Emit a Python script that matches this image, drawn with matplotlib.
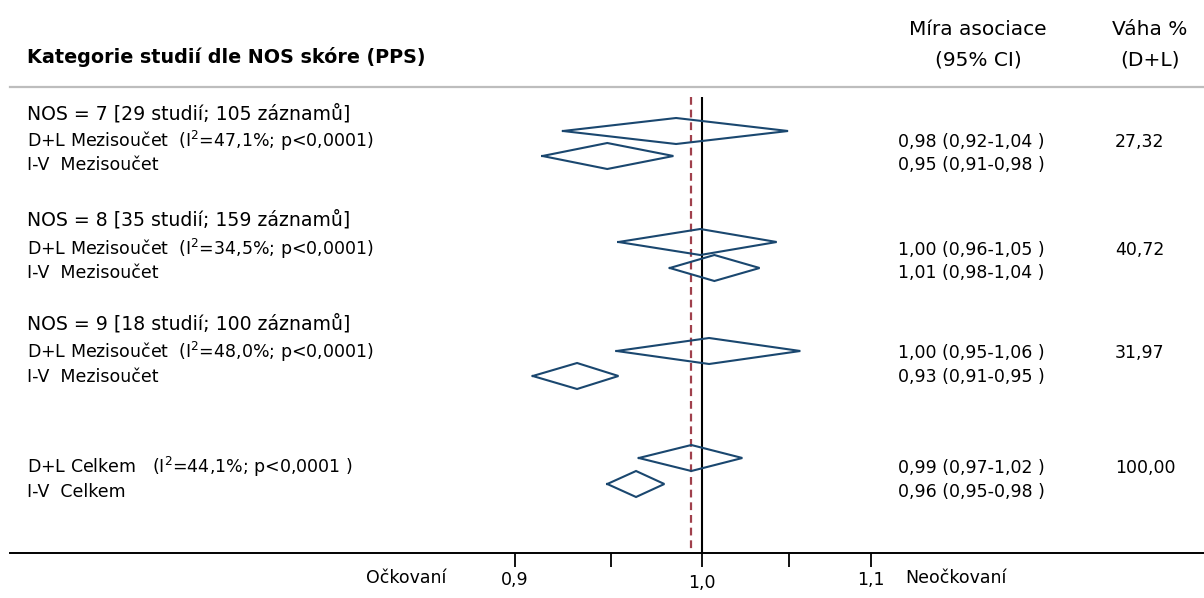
import numpy as np
import matplotlib
matplotlib.use('Agg')
import matplotlib.pyplot as plt
from matplotlib.ticker import FixedLocator, NullFormatter

# --- data ---
group_titles = ['NOS = 7 [29 studií; 105 záznamů]',
                'NOS = 8 [35 studií; 159 záznamů]',
                'NOS = 9 [18 studií; 100 záznamů]']
row_labels = [r'D+L Mezisoučet  (I$^2$=47,1%; p<0,0001)', 'I-V  Mezisoučet',
              r'D+L Mezisoučet  (I$^2$=34,5%; p<0,0001)', 'I-V  Mezisoučet',
              r'D+L Mezisoučet  (I$^2$=48,0%; p<0,0001)', 'I-V  Mezisoučet',
              r'D+L Celkem   (I$^2$=44,1%; p<0,0001 )', 'I-V  Celkem']
# diamond centre and ends as drawn
est = [0.9855, 0.948, 0.999, 1.007, 1.004, 0.932, 0.994, 0.9635]
lo = [0.9246, 0.914, 0.954, 0.982, 0.953, 0.909, 0.965, 0.948]
hi = [1.0497, 0.984, 1.043, 1.033, 1.057, 0.954, 1.023, 0.979]
ci_text = ['0,98 (0,92-1,04 )', '0,95 (0,91-0,98 )',
           '1,00 (0,96-1,05 )', '1,01 (0,98-1,04 )',
           '1,00 (0,95-1,06 )', '0,93 (0,91-0,95 )',
           '0,99 (0,97-1,02 )', '0,96 (0,95-0,98 )']
weights = ['27,32', '', '40,72', '', '31,97', '', '100,00', '']
tick_vals = [0.9, 1.0, 1.1]
tick_labels = ['0,9', '1,0', '1,1']
minor_vals = [0.95, 1.05]

# --- layout (pixels from top) ---
W, H = 1204, 598
K = 1774.0      # px per log unit
X_NULL = 702
header_y = [119, 226, 330]
text_y = [147, 170, 255, 278, 358, 382, 473, 497]
diamond_y = [131, 156, 242, 268, 351, 376, 458, 484]
AXIS_Y = 553
LINE_TOP = 97

plt.rcParams['font.family'] = ['DejaVu Sans']
plt.rcParams['mathtext.fontset'] = 'dejavusans'
fig = plt.figure(figsize=(W / 100, H / 100), dpi=100)
ax = fig.add_axes([0, 0, 1, 1])
ax.set_xscale('log')
ax.set_xlim(np.exp(-X_NULL / K), np.exp((W - X_NULL) / K))
ax.set_ylim(H, 0)

for s in ['top', 'left', 'right']:
    ax.spines[s].set_visible(False)
ax.spines['bottom'].set_position(('data', AXIS_Y))
ax.spines['bottom'].set_bounds(np.exp((10 - X_NULL) / K), np.exp((W - X_NULL) / K))
ax.spines['bottom'].set_linewidth(1.4)
ax.yaxis.set_visible(False)

ax.xaxis.set_major_locator(FixedLocator(tick_vals))
ax.set_xticklabels(tick_labels)
ax.xaxis.set_minor_locator(FixedLocator(minor_vals))
ax.xaxis.set_minor_formatter(NullFormatter())
ax.tick_params(axis='x', which='both', direction='out', length=10, width=1.3,
               pad=3, labelsize=12.5)
ax.xaxis.get_major_ticks()[1].set_pad(5)

navy = '#1a476f'
ax.vlines(1.0, LINE_TOP, AXIS_Y, color='black', lw=1.5, zorder=2)
ax.vlines(est[6], LINE_TOP, AXIS_Y, color='#a0404c', lw=1.6,
          linestyles=(0, (3.5, 2.2)), zorder=2)

h = 13
for i in range(len(est)):
    y = diamond_y[i]
    ax.plot([lo[i], est[i], hi[i], est[i], lo[i]], [y, y - h, y, y + h, y],
            color=navy, lw=1.5, zorder=3, solid_joinstyle='miter')

tx = ax.get_yaxis_transform()
ax.axhline(87, xmin=10 / W, xmax=1, color='#bdbdbd', lw=1.6)

ax.text(27 / W, 63, 'Kategorie studií dle NOS skóre (PPS)', transform=tx,
        fontsize=13.8, fontweight='bold', va='baseline')
ax.text(978 / W, 35, 'Míra asociace', transform=tx, fontsize=14.5, ha='center', va='baseline')
ax.text(978 / W, 65, '(95% CI)', transform=tx, fontsize=14.5, ha='center', va='baseline')
ax.text(1150 / W, 35, 'Váha %', transform=tx, fontsize=14.5, ha='center', va='baseline')
ax.text(1150 / W, 65, '(D+L)', transform=tx, fontsize=14.5, ha='center', va='baseline')

for g, y in zip(group_titles, header_y):
    ax.text(27 / W, y, g, transform=tx, fontsize=13.6, va='baseline')
for i in range(len(row_labels)):
    ax.text(27 / W, text_y[i], row_labels[i], transform=tx, fontsize=12.5, va='baseline')
    ax.text(898 / W, text_y[i], ci_text[i], transform=tx, fontsize=12.5, va='baseline')
    if weights[i]:
        ax.text(1115 / W, text_y[i], weights[i], transform=tx, fontsize=12.5, va='baseline')

ax.text(446 / W, 578, 'Očkovaní', transform=tx, fontsize=12.5, ha='right', va='center')
ax.text(905 / W, 578, 'Neočkovaní', transform=tx, fontsize=12.5, ha='left', va='center')

fig.savefig('out.png', dpi=100, facecolor='white')
